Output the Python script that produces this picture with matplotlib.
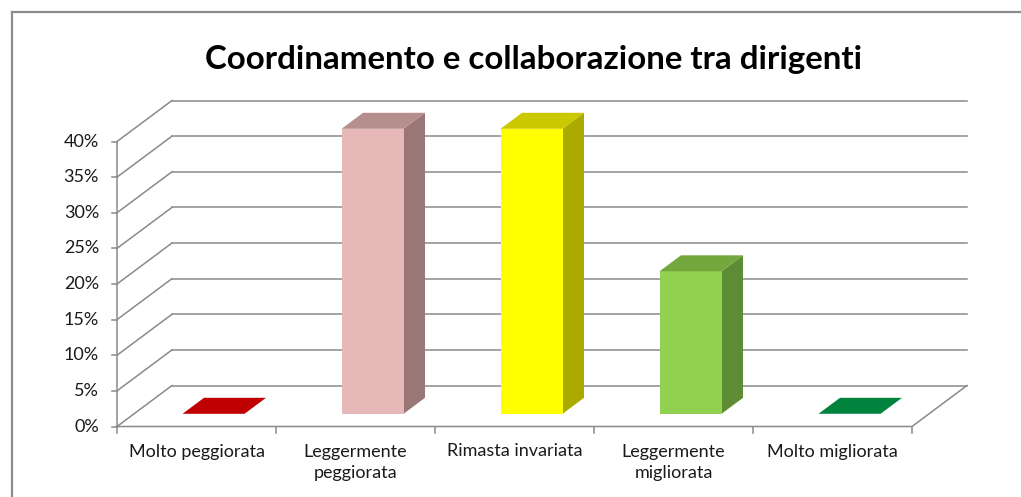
import matplotlib
matplotlib.use("Agg")
import matplotlib.pyplot as plt
from matplotlib.patches import Polygon, Rectangle
from matplotlib.lines import Line2D

# ---------------- data ----------------
title = "Coordinamento e collaborazione tra dirigenti"
categories = ["Molto peggiorata", "Leggermente\npeggiorata", "Rimasta invariata",
              "Leggermente\nmigliorata", "Molto migliorata"]
values = [0, 40, 40, 20, 0]          # percent
y_ticks = [0, 5, 10, 15, 20, 25, 30, 35, 40]
y_tick_labels = ["0%", "5%", "10%", "15%", "20%", "25%", "30%", "35%", "40%"]
front_colors = ["#C00000", "#E6B9B8", "#FFFF00", "#92D050", "#00843D"]
side_colors = ["#8A0000", "#9A7676", "#AAAA00", "#5E8C34", "#005E2B"]
top_colors = ["#C00000", "#B58F8E", "#CCC800", "#72A83C", "#00843D"]

# ---------------- layout (pixels) ----------------
W, H = 1021, 497
X0_PX = 117.0      # pixel of category -0.5 (front left)
CAT_PX = 159.0     # pixels per category
Y0_PX = 426.5      # pixel row of 0% on the front plane
PCT_PX = 7.125     # pixels per percent
DX = 55.0 / CAT_PX     # depth offset in category units
DY = 41.0 / PCT_PX     # depth offset in percent units
BAR_W = 0.39
D0, D1 = 0.31, 0.70    # bar depth range (fraction of full depth)

fig = plt.figure(figsize=(W / 100, H / 100), dpi=100)
ax = fig.add_axes([0, 0, 1, 1])
ax.set_xlim(-0.5 - X0_PX / CAT_PX, -0.5 + (W - X0_PX) / CAT_PX)
ax.set_ylim((Y0_PX - H) / PCT_PX, Y0_PX / PCT_PX)
ax.axis("off")

n = len(categories)
xl, xr = -0.5, n - 0.5
grid_c = "#8A8A8A"
glw = 1.1

# floor outline & walls
ax.plot([xl, xr, xr + DX], [0, 0, DY], color=grid_c, lw=glw, zorder=1,
        solid_joinstyle="miter")
for t in y_ticks:
    ax.plot([xl + DX, xr + DX], [t + DY, t + DY], color=grid_c, lw=glw, zorder=1)
    ax.plot([xl, xl + DX], [t, t + DY], color=grid_c, lw=glw, zorder=1)

# y axis
ax.plot([xl, xl], [0, y_ticks[-1]], color=grid_c, lw=glw, zorder=1)
tick_dx = 5.0 / CAT_PX
for t, lab in zip(y_ticks, y_tick_labels):
    ax.plot([xl - tick_dx, xl], [t, t], color=grid_c, lw=glw, zorder=1)
    ax.text(xl - 18.0 / CAT_PX, t, lab, ha="right", va="center",
            fontsize=13, family="Lato", color="#1A1A1A")

# x ticks
tick_dy = 6.0 / PCT_PX
for b in range(n + 1):
    ax.plot([b - 0.5, b - 0.5], [0, -tick_dy], color=grid_c, lw=glw, zorder=1)
for i, lab in enumerate(categories):
    ax.text(i, -17.0 / PCT_PX, lab, ha="center", va="top", fontsize=13,
            family="Lato", color="#1A1A1A", linespacing=1.45)

# bars
for i, v in enumerate(values):
    fl = i - BAR_W / 2 + D0 * DX
    fr = i + BAR_W / 2 + D0 * DX
    fb = D0 * DY
    ddx = (D1 - D0) * DX
    ddy = (D1 - D0) * DY
    if v > 0:
        ax.add_patch(Polygon([(fr, fb), (fr + ddx, fb + ddy), (fr + ddx, fb + ddy + v),
                              (fr, fb + v)], closed=True, facecolor=side_colors[i],
                             edgecolor="none", zorder=3))
        ax.add_patch(Rectangle((fl, fb), fr - fl, v, facecolor=front_colors[i],
                               edgecolor="none", zorder=3))
    ax.add_patch(Polygon([(fl, fb + v), (fr, fb + v), (fr + ddx, fb + v + ddy),
                          (fl + ddx, fb + v + ddy)], closed=True,
                         facecolor=top_colors[i], edgecolor="none", zorder=3))

# title
fig.text(533.5 / W, 1 - 59.0 / H, title, ha="center", va="center",
         fontsize=23.8, fontweight="bold", family="Lato", color="black")

# chart border (top and left visible)
fig.add_artist(Line2D([11.5 / W, 11.5 / W], [0, 1 - 12.0 / H], color="#8C8C8C", lw=1.6))
fig.add_artist(Line2D([11.5 / W, 1.0], [1 - 12.0 / H, 1 - 12.0 / H], color="#8C8C8C", lw=1.6))

fig.savefig("out.png", dpi=100, facecolor="white")
